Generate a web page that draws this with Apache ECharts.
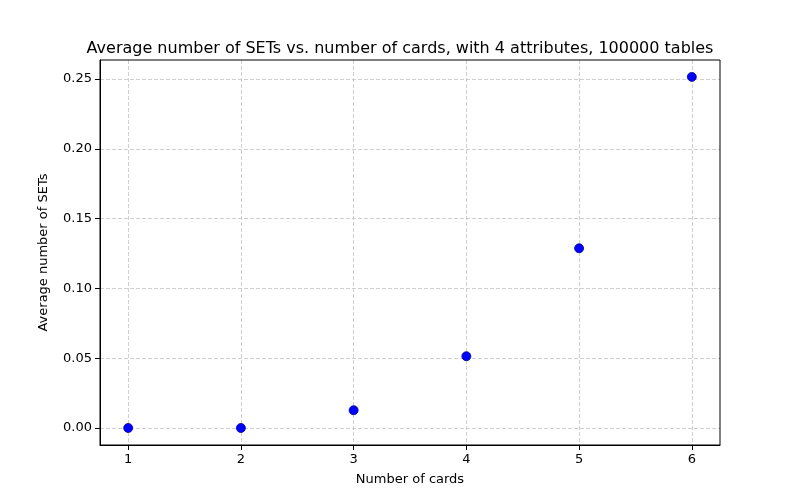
<!DOCTYPE html>
<html>
<head>
<meta charset="utf-8">
<script src="https://cdn.jsdelivr.net/npm/echarts@6/dist/echarts.min.js"></script>
<style>html,body{margin:0;padding:0;background:#fff}#c{width:800px;height:500px}</style>
</head>
<body>
<div id="c"></div>
<script>
const cards = [1, 2, 3, 4, 5, 6];
const avgSets = [0, 0, 0.0127, 0.0514, 0.1287, 0.2515];
const xTicks = [1, 2, 3, 4, 5, 6];
const yTicks = [0, 0.05, 0.1, 0.15, 0.2, 0.25];

const chart = echarts.init(document.getElementById("c"));
const font = "DejaVu Sans";
const dashed = { show: true, lineStyle: { type: [4, 2], color: "#c4c4c4", width: 0.8 } };

chart.setOption({
  animation: false,
  title: {
    text: "Average number of SETs vs. number of cards, with 4 attributes, 100000 tables",
    left: "center", top: 36,
    textStyle: { fontFamily: font, fontSize: 16, fontWeight: "normal", color: "#000" },
  },
  grid: { left: 100, right: 80, top: 60, bottom: 55 },
  xAxis: {
    type: "value", min: 0.75, max: 6.25,
    name: "Number of cards", nameLocation: "middle", nameGap: 28,
    nameTextStyle: { fontFamily: font, fontSize: 13, color: "#000" },
    axisLine: { onZero: false, lineStyle: { color: "#000" } },
    axisTick: { show: true, customValues: xTicks, length: 5, lineStyle: { color: "#000" } },
    axisLabel: { customValues: xTicks, fontFamily: font, fontSize: 13, color: "#000" },
    splitLine: dashed,
  },
  yAxis: {
    type: "value", min: -0.0122, max: 0.2636,
    name: "Average number of SETs", nameLocation: "middle", nameGap: 50,
    nameTextStyle: { fontFamily: font, fontSize: 13, color: "#000" },
    axisLine: { show: true, onZero: false, lineStyle: { color: "#000" } },
    axisTick: { show: true, customValues: yTicks, length: 5, lineStyle: { color: "#000" } },
    axisLabel: { customValues: yTicks, fontFamily: font, fontSize: 13, color: "#000",
      formatter: (v) => v.toFixed(2) },
    splitLine: dashed,
  },
  series: [{
    type: "scatter",
    data: cards.map((c, i) => [c, avgSets[i]]),
    symbolSize: 9,
    itemStyle: { color: "#0000ff", borderColor: "#00008b", borderWidth: 0.8, opacity: 1 },
  }],
  graphic: [{
    type: "rect", shape: { x: 100, y: 60, width: 620, height: 385 },
    style: { fill: "none", stroke: "#000", lineWidth: 1 }, silent: true, z: 10,
  }],
});
</script>
</body>
</html>
